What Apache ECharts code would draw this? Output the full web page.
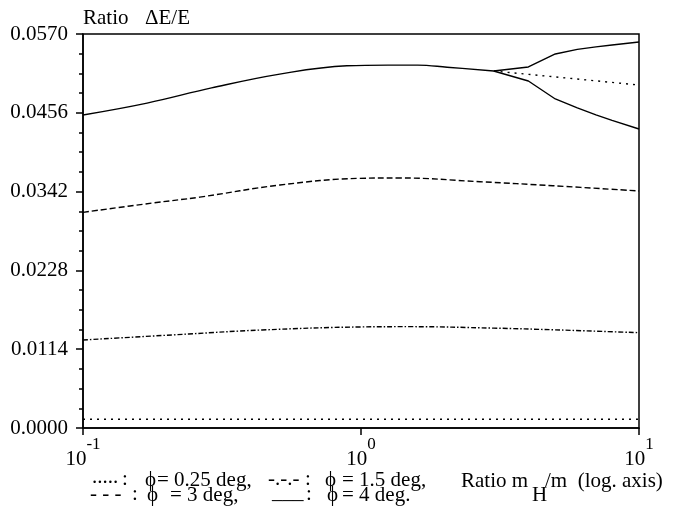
<!DOCTYPE html>
<html><head><meta charset="utf-8">
<script src="https://cdn.jsdelivr.net/npm/echarts@6/dist/echarts.min.js"></script>
<style>html,body{margin:0;padding:0;background:#fff}#c{width:674px;height:512px}</style>
</head><body><div id="c"></div>
<script>
// ---- data ----
const phi025X = [0.1, 1, 10];
const phi025Y = [0.00126, 0.00126, 0.00126];
const phi15X = [0.1, 0.24, 0.44, 1.0, 1.5, 3, 5, 10];
const phi15Y = [0.01273, 0.0136, 0.01418, 0.01462, 0.01466, 0.01445, 0.0142, 0.01379];
const phi3X = [0.1, 0.178, 0.263, 0.511, 0.99, 1.38, 2.68, 4.9, 10];
const phi3Y = [0.0312, 0.03255, 0.0334, 0.03515, 0.03612, 0.03617, 0.03563, 0.03505, 0.03429];
const phi4X = [0.1, 0.17, 0.29, 0.51, 0.89, 1.25, 1.6, 2.04, 3];
const phi4Y = [0.04528, 0.0470, 0.0492, 0.0512, 0.0524, 0.0525, 0.0525, 0.0522, 0.05165];
const branchX = [3, 4, 5, 6, 7, 8, 10];
const phi4UpperY = [0.05165, 0.05223, 0.05411, 0.05477, 0.05513, 0.05541, 0.05584];
const phi4LowerY = [0.05165, 0.0502, 0.0476, 0.0463, 0.0453, 0.0445, 0.04326];
const phi4DotX = [3, 10];
const phi4DotY = [0.05165, 0.04962];
const yMin = 0, yMax = 0.057, yStep = 0.0114;
const xMin = 0.1, xMax = 10;
const yDecimals = 4;

const SERIF = '"Liberation Serif","Times New Roman",serif';
function zip(xs, ys) { return xs.map((x, i) => [x, ys[i]]); }

const chart = echarts.init(document.getElementById('c'), null, {renderer: 'canvas'});

function line(name, data, dash, smooth) {
  return {
    name: name, type: 'line', data: data, showSymbol: false, smooth: smooth,
    lineStyle: {color: '#000', width: 1.4, type: dash},
    silent: true, animation: false
  };
}

function txt(text, x, y, size) {
  return {
    type: 'text', x: x, y: y, silent: true,
    style: {text: text, fill: '#000', fontSize: size || 20, fontFamily: SERIF,
            textAlign: 'left', textVerticalAlign: 'middle', align: 'left', verticalAlign: 'middle'}
  };
}

const option = {
  backgroundColor: '#fff',
  animation: false,
  grid: {left: 83, right: 35, top: 34, bottom: 84, show: true, borderColor: '#000', borderWidth: 1.5,
         containLabel: false, outerBoundsMode: 'none'},
  xAxis: {
    type: 'log', logBase: 10, min: xMin, max: xMax,
    axisLine: {show: true, lineStyle: {color: '#000', width: 1.5}},
    axisTick: {show: true, length: 7, inside: false, lineStyle: {color: '#000', width: 1.5}},
    minorTick: {show: false},
    splitLine: {show: false},
    axisLabel: {
      margin: 8, color: '#000', showMinLabel: true, showMaxLabel: true,
      formatter: function (v) { const e = Math.round(Math.log10(v)); return '{b|10}{s|' + e + '}'; },
      rich: {
        b: {fontSize: 21, fontFamily: SERIF, color: '#000', lineHeight: 34, verticalAlign: 'bottom'},
        s: {fontSize: 17, fontFamily: SERIF, color: '#000', lineHeight: 34, verticalAlign: 'top'}
      }
    }
  },
  yAxis: {
    type: 'value', min: yMin, max: yMax, interval: yStep,
    axisLine: {show: true, lineStyle: {color: '#000', width: 1.5}},
    axisTick: {show: true, length: 7, inside: false, lineStyle: {color: '#000', width: 1.5}},
    minorTick: {show: true, splitNumber: 4, length: 4, lineStyle: {color: '#000', width: 1.5}},
    splitLine: {show: false},
    axisLabel: {
      margin: 15, color: '#000', fontSize: 21, fontFamily: SERIF, padding: [0, 0, 8, 0],
      formatter: function (v) { return v.toFixed(yDecimals); }
    }
  },
  series: [
    line('phi 0.25', zip(phi025X, phi025Y), [2, 5], false),
    line('phi 1.5', zip(phi15X, phi15Y), [5, 2, 1.5, 2], 0.4),
    line('phi 3', zip(phi3X, phi3Y), [6, 3], 0.4),
    line('phi 4', zip(phi4X, phi4Y), 'solid', 0.4),
    line('phi 4 upper', zip(branchX, phi4UpperY), 'solid', false),
    line('phi 4 lower', zip(branchX, phi4LowerY), 'solid', false),
    line('phi 4 dotted', zip(phi4DotX, phi4DotY), [2, 5], false)
  ],
  graphic: [
    txt('Ratio', 83, 18, 21),
    txt('\u0394E/E', 145, 18, 21),
    txt('.....', 92, 477, 21),
    txt(':', 122, 479, 21),
    txt('\u03D5', 145, 480, 21),
    txt('= 0.25 deg,', 157, 480, 21),
    txt('-.-.-', 268, 479, 21),
    txt(':', 305, 479, 21),
    txt('\u03D5', 325, 480, 21),
    txt('= 1.5 deg,', 342, 480, 21),
    txt('- - -', 90, 494, 21),
    txt(':', 132, 494, 21),
    txt('\u03D5', 147, 495, 21),
    txt('= 3 deg,', 170, 495, 21),
    txt('___', 272, 492, 21),
    txt(':', 306, 494, 21),
    txt('\u03D5', 327, 495, 21),
    txt('= 4 deg.', 342, 495, 21),
    txt('Ratio m', 461, 481, 21),
    txt('H', 532, 495, 21),
    txt('/m  (log. axis)', 545, 481, 21)
  ]
};
chart.setOption(option);
</script>
</body></html>
